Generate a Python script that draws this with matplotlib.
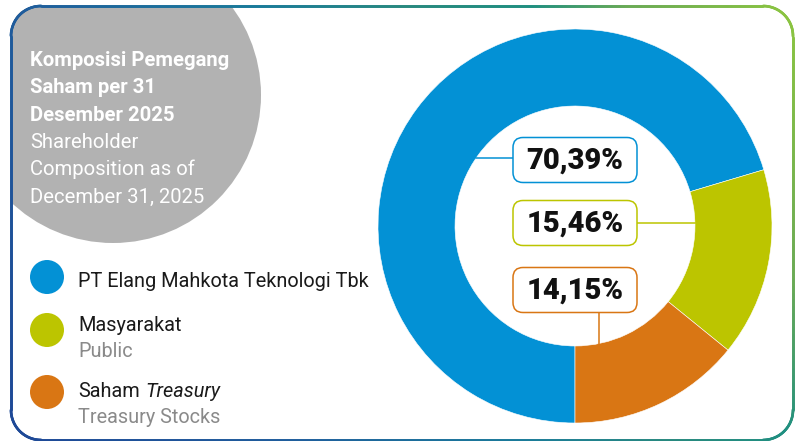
import numpy as np
import matplotlib
matplotlib.use("Agg")
from matplotlib import pyplot as plt
from matplotlib.patches import Circle, FancyBboxPatch
from matplotlib.collections import LineCollection
from matplotlib.colors import LinearSegmentedColormap

plt.rcParams["font.family"] = ["Roboto", "DejaVu Sans"]

# data
holders = ["PT Elang Mahkota Teknologi Tbk", "Masyarakat", "Saham Treasury"]
holders_en = ["", "Public", "Treasury Stocks"]
shares = [70.39, 15.46, 14.15]
colors = ["#0391d5", "#bcc500", "#d97614"]

title_id = ["Komposisi Pemegang", "Saham per 31", "Desember 2025"]
title_en = ["Shareholder", "Composition as of", "December 31, 2025"]

W, H = 795, 441
fig = plt.figure(figsize=(W / 100, H / 100), dpi=100)
ax = fig.add_axes([0, 0, 1, 1])

# donut (pixel coords, y axis flipped afterwards)
cx, cy, R, width = 575, 226, 197, 77
ax.pie(shares, colors=colors, startangle=90, counterclock=True,
       center=(cx, cy), radius=R,
       wedgeprops=dict(width=width, edgecolor="white", linewidth=0.4))
ax.set_xlim(0, W)
ax.set_ylim(H, 0)
ax.set_aspect("auto")
ax.axis("off")

# rounded frame with gradient stroke
x0, y0, x1, y1, r = 11, 6, 793, 440, 30
pts = []
for ccx, ccy, a0, a1 in [(x1 - r, y0 + r, -90, 0), (x1 - r, y1 - r, 0, 90),
                         (x0 + r, y1 - r, 90, 180), (x0 + r, y0 + r, 180, 270)]:
    a = np.radians(np.linspace(a0, a1, 30))
    pts.append(np.column_stack([ccx + r * np.cos(a), ccy + r * np.sin(a)]))
pts = np.vstack(pts + [pts[0][:1]])
seg_len = np.hypot(*np.diff(pts, axis=0).T)
s = np.concatenate([[0], np.cumsum(seg_len)])
ss = np.linspace(0, s[-1], 3000)
px = np.interp(ss, s, pts[:, 0])
py = np.interp(ss, s, pts[:, 1])
segs = np.stack([np.column_stack([px[:-1], py[:-1]]),
                 np.column_stack([px[1:], py[1:]])], axis=1)
t = 0.75 * px[:-1] / W + 0.25 * (1 - py[:-1] / H)
cmap = LinearSegmentedColormap.from_list(
    "frame", [(0, "#1e4796"), (0.27, "#1f5d9c"), (0.49, "#1a7b9a"),
              (0.63, "#28897f"), (0.75, "#1f8f80"), (0.84, "#6aaa55"),
              (1.0, "#8dc63f")])
lc = LineCollection(segs, colors=cmap(t), linewidths=1.9, capstyle="round")
ax.add_collection(lc)

# grey circle behind the title, clipped by frame
clip_box = FancyBboxPatch((x0, y0), x1 - x0, y1 - y0,
                          boxstyle="round,pad=0,rounding_size=30",
                          transform=ax.transData)
grey = Circle((113, 95), 148, facecolor="#b2b2b2", edgecolor="none", zorder=0)
ax.add_patch(grey)
grey.set_clip_path(clip_box)

for i, line in enumerate(title_id):
    ax.text(30, 66 + i * 27.3, line, color="white", fontsize=14.6,
            fontweight="bold", va="baseline")
for i, line in enumerate(title_en):
    ax.text(30, 148 + i * 27.3, line, color="white", fontsize=14.6,
            va="baseline")

# legend
dot_y = [277, 330, 392]
name_y = [287, 331, 397]
for i in range(3):
    ax.add_patch(Circle((47, dot_y[i]), 17, facecolor=colors[i], edgecolor="none"))
    if i == 2:
        t1 = ax.text(78, name_y[i], "Saham", fontsize=14.3, color="#1a1a1a", va="baseline")
        ax.annotate("Treasury", xy=(1, 0), xycoords=t1, xytext=(4, 0),
                    textcoords="offset points", fontsize=14.3, color="#1a1a1a",
                    style="italic", va="bottom")
    else:
        ax.text(78, name_y[i], holders[i], fontsize=14.3, color="#1a1a1a", va="baseline")
    if holders_en[i]:
        ax.text(78, name_y[i] + 26, holders_en[i], fontsize=14.3, color="#8a8a8a",
                va="baseline")

# percentage boxes and connectors
box_y = [160, 223, 290]
r_in = R - width
for i in range(3):
    ax.add_patch(FancyBboxPatch((513, box_y[i] - 22.5), 124, 45,
                                boxstyle="round,pad=0,rounding_size=10",
                                facecolor="white", edgecolor=colors[i],
                                linewidth=1.1, zorder=3))
    ax.text(575, box_y[i] + 1, f"{shares[i]:.2f}%".replace(".", ","),
            fontsize=21, fontweight="black", color="#111111",
            ha="center", va="center", zorder=4)

ly = 158
ax.plot([cx - np.sqrt(r_in ** 2 - (cy - ly) ** 2), 513], [ly, ly],
        color=colors[0], lw=1.1)
ax.plot([637, cx + np.sqrt(r_in ** 2 - (cy - 223) ** 2)], [223, 223],
        color=colors[1], lw=1.1)
lx = 599
ax.plot([lx, lx], [312.5, cy + np.sqrt(r_in ** 2 - (lx - cx) ** 2)],
        color=colors[2], lw=1.1)

fig.savefig("out.png", dpi=100)
